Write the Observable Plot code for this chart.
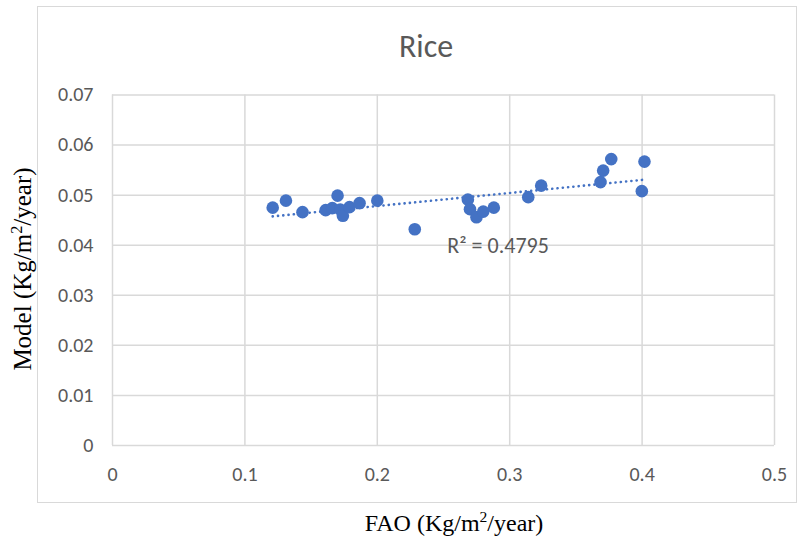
<!DOCTYPE html>
<html>
<head>
<meta charset="utf-8">
<script src="https://cdn.jsdelivr.net/npm/d3@7"></script>
<script src="https://cdn.jsdelivr.net/npm/@observablehq/plot@0.6"></script>
<style>
  body { margin: 0; background: #fff; }
  #wrap { position: relative; width: 803px; height: 542px; overflow: hidden; }
  #frame { position: absolute; left: 37px; top: 6px; width: 760px; height: 497px; border: 1.5px solid #d9d9d9; box-sizing: border-box; }
  #title { position: absolute; left: 426px; top: 46px; transform: translate(-50%, -50%); white-space: nowrap; font-family: Carlito, Calibri, Lato, sans-serif; font-size: 32px; color: #595959; }
  #ylab { position: absolute; left: 23px; top: 269px; transform: translate(-50%, -50%) rotate(-90deg); white-space: nowrap; font-family: "Liberation Serif", "Times New Roman", serif; font-size: 25px; color: #000; }
  #xlab { position: absolute; left: 454px; top: 523px; transform: translate(-50%, -50%); white-space: nowrap; font-family: "Liberation Serif", "Times New Roman", serif; font-size: 24px; color: #000; }
  #plot { position: absolute; left: 0; top: 0; }
  sup { font-size: 0.65em; vertical-align: 0.55em; line-height: 0; }
</style>
</head>
<body>
<div id="wrap">
  <div id="frame"></div>
  <div id="title">Rice</div>
  <div id="plot"></div>
  <div id="ylab">Model (Kg/m<sup>2</sup>/year)</div>
  <div id="xlab">FAO (Kg/m<sup>2</sup>/year)</div>
</div>
<script>
const fao = [0.121, 0.131, 0.1435, 0.161, 0.166, 0.170, 0.172, 0.174, 0.179, 0.1866, 0.200, 0.2283, 0.2684, 0.270, 0.2749, 0.280, 0.288, 0.314, 0.3238, 0.3686, 0.3706, 0.3767, 0.3998, 0.4018];
const model = [0.0475, 0.0489, 0.0466, 0.0470, 0.0474, 0.0499, 0.0471, 0.0459, 0.0476, 0.0484, 0.0489, 0.0432, 0.0491, 0.0472, 0.0456, 0.0467, 0.0475, 0.0496, 0.0519, 0.0526, 0.0549, 0.0572, 0.0508, 0.0567];
const xTicks = [0, 0.1, 0.2, 0.3, 0.4, 0.5];
const yTicks = [0, 0.01, 0.02, 0.03, 0.04, 0.05, 0.06, 0.07];
const r2Label = "R² = 0.4795";
const r2Pos = [{x: 0.2912, y: 0.0398}];

const data = fao.map((f, i) => ({fao: f, model: model[i]}));
const tickFont = "Carlito, Calibri, Lato, sans-serif";
const fmt = d => String(+d.toFixed(2));

const chart = Plot.plot({
  width: 803,
  height: 542,
  marginLeft: 112,
  marginRight: 29,
  marginTop: 94.5,
  marginBottom: 97,
  style: { fontFamily: tickFont, fontSize: "20px", color: "#595959", background: "transparent" },
  x: { domain: [0, 0.5], label: null },
  y: { domain: [0, 0.07], label: null },
  marks: [
    Plot.gridX(xTicks, { stroke: "#d9d9d9", strokeOpacity: 1, strokeWidth: 1.5 }),
    Plot.gridY(yTicks, { stroke: "#d9d9d9", strokeOpacity: 1, strokeWidth: 1.5 }),
    Plot.axisX(xTicks, { tickSize: 0, tickPadding: 21, tickFormat: fmt, fill: "#595959", fontSize: 20, label: null }),
    Plot.axisY(yTicks, { tickSize: 0, tickPadding: 19, tickFormat: fmt, fill: "#595959", fontSize: 20, label: null }),
    Plot.linearRegressionY(data, { x: "fao", y: "model", ci: 0, stroke: "#4472C4", strokeWidth: 2.6, strokeDasharray: "0.1 5.2", strokeLinecap: "round" }),
    Plot.dot(data, { x: "fao", y: "model", r: 6.3, fill: "#4472C4", stroke: "none" }),
    Plot.text(r2Pos, { x: "x", y: "y", text: () => r2Label, fill: "#595959", fontSize: 22 })
  ]
});
document.getElementById("plot").appendChild(chart);
</script>
</body>
</html>
